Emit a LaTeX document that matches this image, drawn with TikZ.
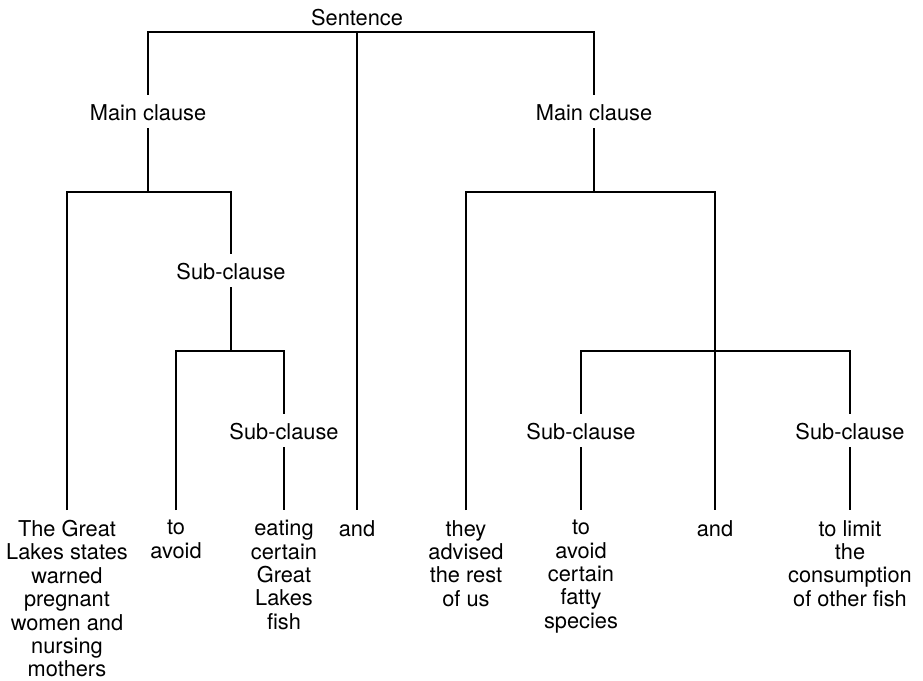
\documentclass[tikz,border=0pt]{standalone}
\usepackage{fontspec}
\setmainfont{TeX Gyre Heros}
\begin{document}
\begin{tikzpicture}[
    x=1pt, y=-1pt,
    every node/.style={font=\fontsize{21.8}{23.4}\selectfont},
    label/.style={anchor=base, inner xsep=2pt, inner ysep=4pt, text height=21pt, text depth=4pt},
    leaf/.style={anchor=north, align=center, inner xsep=1pt, inner ysep=10pt, execute at begin node={\rule{0pt}{16pt}}},
    branch/.style={line width=1.1pt, black}
]
\useasboundingbox (0,0) rectangle (923,680);

% Уровень 1
\node[anchor=base, inner sep=1pt] (sent) at (357,25) {Sentence};
\coordinate (s0) at (357,32);

% Уровень 2
\node[label] (mc1) at (148,120) {Main clause};
\node[label] (mc2) at (594,120) {Main clause};
\coordinate (j1) at (148,192);
\coordinate (j3) at (594,192);

% Уровень 3
\node[label] (sc1) at (231,279) {Sub-clause};
\coordinate (j2) at (231,351);
\coordinate (j4) at (715,351);

% Уровень 4
\node[label] (sc2) at (284,439) {Sub-clause};
\node[label] (sc3) at (581,439) {Sub-clause};
\node[label] (sc4) at (850,439) {Sub-clause};

% Листья
\node[leaf] (l1) at (67,510) {The Great\\Lakes states\\warned\\pregnant\\women and\\nursing\\mothers};
\node[leaf] (l2) at (176,510) {to\\avoid};
\node[leaf] (l3) at (284,510) {eating\\certain\\Great\\Lakes\\fish};
\node[leaf] (l4) at (357,510) {and};
\node[leaf] (l5) at (466,510) {they\\advised\\the rest\\of us};
\node[leaf] (l6) at (581,510) {to\\avoid\\certain\\fatty\\species};
\node[leaf] (l7) at (715,510) {and};
\node[leaf] (l8) at (850,510) {to limit\\the\\consumption\\of other fish};

% Рёбра от Sentence
\draw[branch] (mc1) |- (s0) -| (mc2);
\draw[branch] (s0) -- (l4);

% Рёбра от mc1
\draw[branch] (mc1) -- (j1);
\draw[branch] (l1) |- (j1) -| (sc1);

% Рёбра от sc1
\draw[branch] (sc1) -- (j2);
\draw[branch] (l2) |- (j2) -| (sc2);
\draw[branch] (sc2) -- (l3);

% Рёбра от mc2
\draw[branch] (mc2) -- (j3);
\draw[branch] (l5) |- (j3) -| (j4);
\draw[branch] (sc3) |- (j4) -| (sc4);
\draw[branch] (j4) -- (l7);
\draw[branch] (sc3) -- (l6);
\draw[branch] (sc4) -- (l8);
\end{tikzpicture}
\end{document}
